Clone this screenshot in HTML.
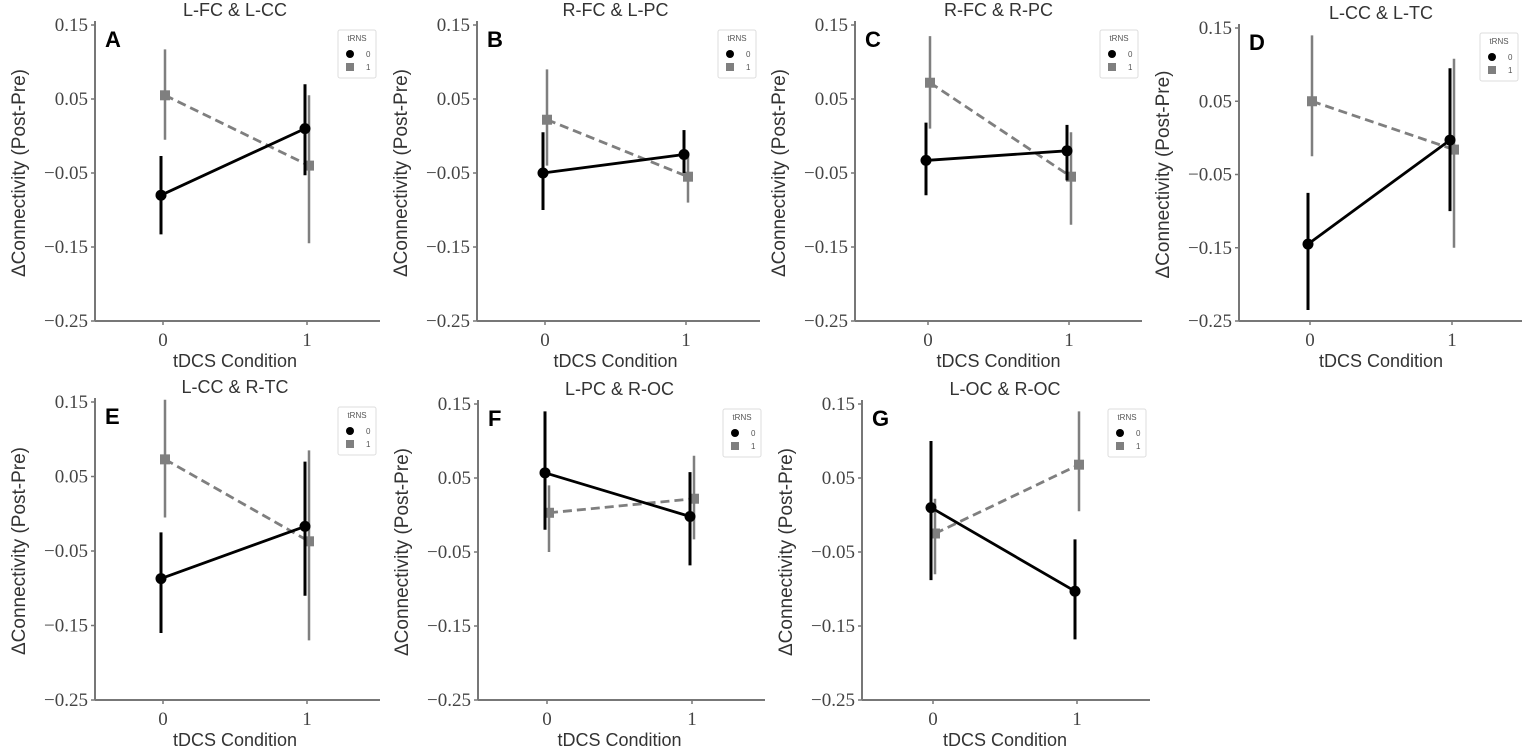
<!DOCTYPE html>
<html><head><meta charset="utf-8"><style>
body{margin:0;background:#fff;width:1535px;height:751px;overflow:hidden}
svg{display:block}
.tk{font-family:"Liberation Serif",serif;font-size:19px;fill:#444}
.xt{font-family:"Liberation Sans",sans-serif;font-size:18px;fill:#333}
.lab{font-family:"Liberation Sans",sans-serif;font-size:19px;fill:#333}
.ttl{font-family:"Liberation Sans",sans-serif;font-size:18px;fill:#333}
.letter{font-family:"Liberation Sans",sans-serif;font-size:22px;font-weight:bold;fill:#000}
</style></head><body>
<svg id="chart" width="1535" height="751"></svg>
<script>
const panelTitles=["L-FC & L-CC","R-FC & L-PC","R-FC & R-PC","L-CC & L-TC","L-CC & R-TC","L-PC & R-OC","L-OC & R-OC"];
const panelLetters=["A","B","C","D","E","F","G"];
const yTicks=[0.15,0.05,-0.05,-0.15,-0.25];
const yTickLabels=["0.15","0.05","\u22120.05","\u22120.15","\u22120.25"];
const xCats=["0","1"];
// tRNS=0 series (black): means, lower, upper for tDCS 0 and 1
const blackMean=[[-0.08,0.01],[-0.05,-0.025],[-0.033,-0.02],[-0.145,-0.003],[-0.087,-0.017],[0.057,-0.002],[0.01,-0.103]];
const blackLo=[[-0.133,-0.053],[-0.1,-0.05],[-0.08,-0.06],[-0.235,-0.1],[-0.16,-0.11],[-0.02,-0.068],[-0.088,-0.168]];
const blackHi=[[-0.027,0.07],[0.005,0.008],[0.018,0.015],[-0.075,0.095],[-0.025,0.07],[0.14,0.058],[0.1,-0.033]];
// tRNS=1 series (gray)
const grayMean=[[0.055,-0.04],[0.022,-0.055],[0.072,-0.055],[0.05,-0.016],[0.073,-0.037],[0.003,0.022],[-0.025,0.068]];
const grayLo=[[-0.005,-0.145],[-0.04,-0.09],[0.01,-0.12],[-0.025,-0.15],[-0.005,-0.17],[-0.05,-0.033],[-0.08,0.005]];
const grayHi=[[0.117,0.055],[0.09,-0.022],[0.135,0.005],[0.14,0.108],[0.153,0.085],[0.04,0.08],[0.022,0.14]];

const layout=[
 {ax:95,x0:163,x1:307,xe:380,yt:25,yb:321},
 {ax:477,x0:545,x1:686,xe:760,yt:25,yb:321},
 {ax:855,x0:928,x1:1069,xe:1142,yt:25,yb:321},
 {ax:1239,x0:1310,x1:1452,xe:1522,yt:28,yb:321},
 {ax:95,x0:163,x1:307,xe:380,yt:402,yb:700},
 {ax:478,x0:547,x1:692,xe:765,yt:404,yb:700},
 {ax:862,x0:933,x1:1077,xe:1150,yt:404,yb:700}
];
const NS="http://www.w3.org/2000/svg";
const svg=document.getElementById("chart");
function mk(tag,attrs,parent,text){const e=document.createElementNS(NS,tag);for(const k in attrs)e.setAttribute(k,attrs[k]);if(text!==undefined)e.textContent=text;parent.appendChild(e);return e;}

layout.forEach((L,p)=>{
 const g=mk("g",{},svg);
 
 
 const y=v=>L.yt+(0.15-v)/0.4*(L.yb-L.yt);
 const x=(i,off)=>(i===0?L.x0:L.x1)+off;
 const ya=mk("line",{x1:L.ax,y1:L.yt-4,x2:L.ax,y2:L.yb,stroke:"#777","stroke-width":2},g);
 
 const xa=mk("line",{x1:L.ax,y1:L.yb,x2:L.xe,y2:L.yb,stroke:"#777","stroke-width":2},g);
 
 yTicks.forEach((t,i)=>{
  mk("line",{x1:L.ax-4,x2:L.ax,y1:y(t),y2:y(t),stroke:"#777","stroke-width":1.5},g);
  const tl=mk("text",{x:L.ax-7,y:y(t)+6,"text-anchor":"end",class:"tk"},g,yTickLabels[i]);
  
 });
 xCats.forEach((c,i)=>{
  mk("line",{x1:x(i,0),x2:x(i,0),y1:L.yb,y2:L.yb+4,stroke:"#777","stroke-width":1.5},g);
  const tl=mk("text",{x:x(i,0),y:L.yb+25,"text-anchor":"middle",class:"tk"},g,c);
  
 });
 const xt=mk("text",{x:(L.x0+L.x1)/2,y:L.yb+46,"text-anchor":"middle",class:"xt"},g,"tDCS Condition");
 
 const cy=(L.yt+L.yb)/2;
 const yl=mk("text",{x:L.ax-70,y:cy,"text-anchor":"middle",class:"lab",transform:`rotate(-90 ${L.ax-70} ${cy})`},g,"\u0394Connectivity (Post-Pre)");
 
 const tt=mk("text",{x:(L.x0+L.x1)/2,y:L.yt-9,"text-anchor":"middle",class:"ttl"},g,panelTitles[p]);
 
 const lt=mk("text",{x:L.ax+10,y:L.yt+22,class:"letter"},g,panelLetters[p]);
 
 const gl=mk("line",{x1:x(0,2),y1:y(grayMean[p][0]),x2:x(1,2),y2:y(grayMean[p][1]),stroke:"#7f7f7f","stroke-width":2.8,"stroke-dasharray":"9,5"},g);
 
 [0,1].forEach(i=>{
  const eb=mk("line",{x1:x(i,2),x2:x(i,2),y1:y(grayLo[p][i]),y2:y(grayHi[p][i]),stroke:"#7f7f7f","stroke-width":2.5},g);
  
  const m=mk("rect",{x:x(i,2)-5,y:y(grayMean[p][i])-5,width:10,height:10,fill:"#7f7f7f"},g);
  
 });
 const bl=mk("line",{x1:x(0,-2),y1:y(blackMean[p][0]),x2:x(1,-2),y2:y(blackMean[p][1]),stroke:"#000","stroke-width":2.8},g);
 
 [0,1].forEach(i=>{
  const eb=mk("line",{x1:x(i,-2),x2:x(i,-2),y1:y(blackLo[p][i]),y2:y(blackHi[p][i]),stroke:"#000","stroke-width":3},g);
  
  const m=mk("circle",{cx:x(i,-2),cy:y(blackMean[p][i]),r:5.5,fill:"#000"},g);
  
 });
 const lx=L.xe-42, ly=L.yt+5;
 const lg=mk("g",{},g);
 
 mk("rect",{x:lx,y:ly,width:38,height:48,fill:"#fff",stroke:"#ddd","stroke-width":1,rx:2},lg);
 mk("text",{x:lx+19,y:ly+11,"text-anchor":"middle","font-family":"Liberation Sans,sans-serif","font-size":8,fill:"#555"},lg,"tRNS");
 mk("circle",{cx:lx+12,cy:ly+24,r:4,fill:"#000"},lg);
 mk("text",{x:lx+28,y:ly+27,"font-family":"Liberation Sans,sans-serif","font-size":8,fill:"#555"},lg,"0");
 mk("rect",{x:lx+8,y:ly+33,width:8,height:8,fill:"#7f7f7f"},lg);
 mk("text",{x:lx+28,y:ly+40,"font-family":"Liberation Sans,sans-serif","font-size":8,fill:"#555"},lg,"1");
});
</script>
</body></html>
